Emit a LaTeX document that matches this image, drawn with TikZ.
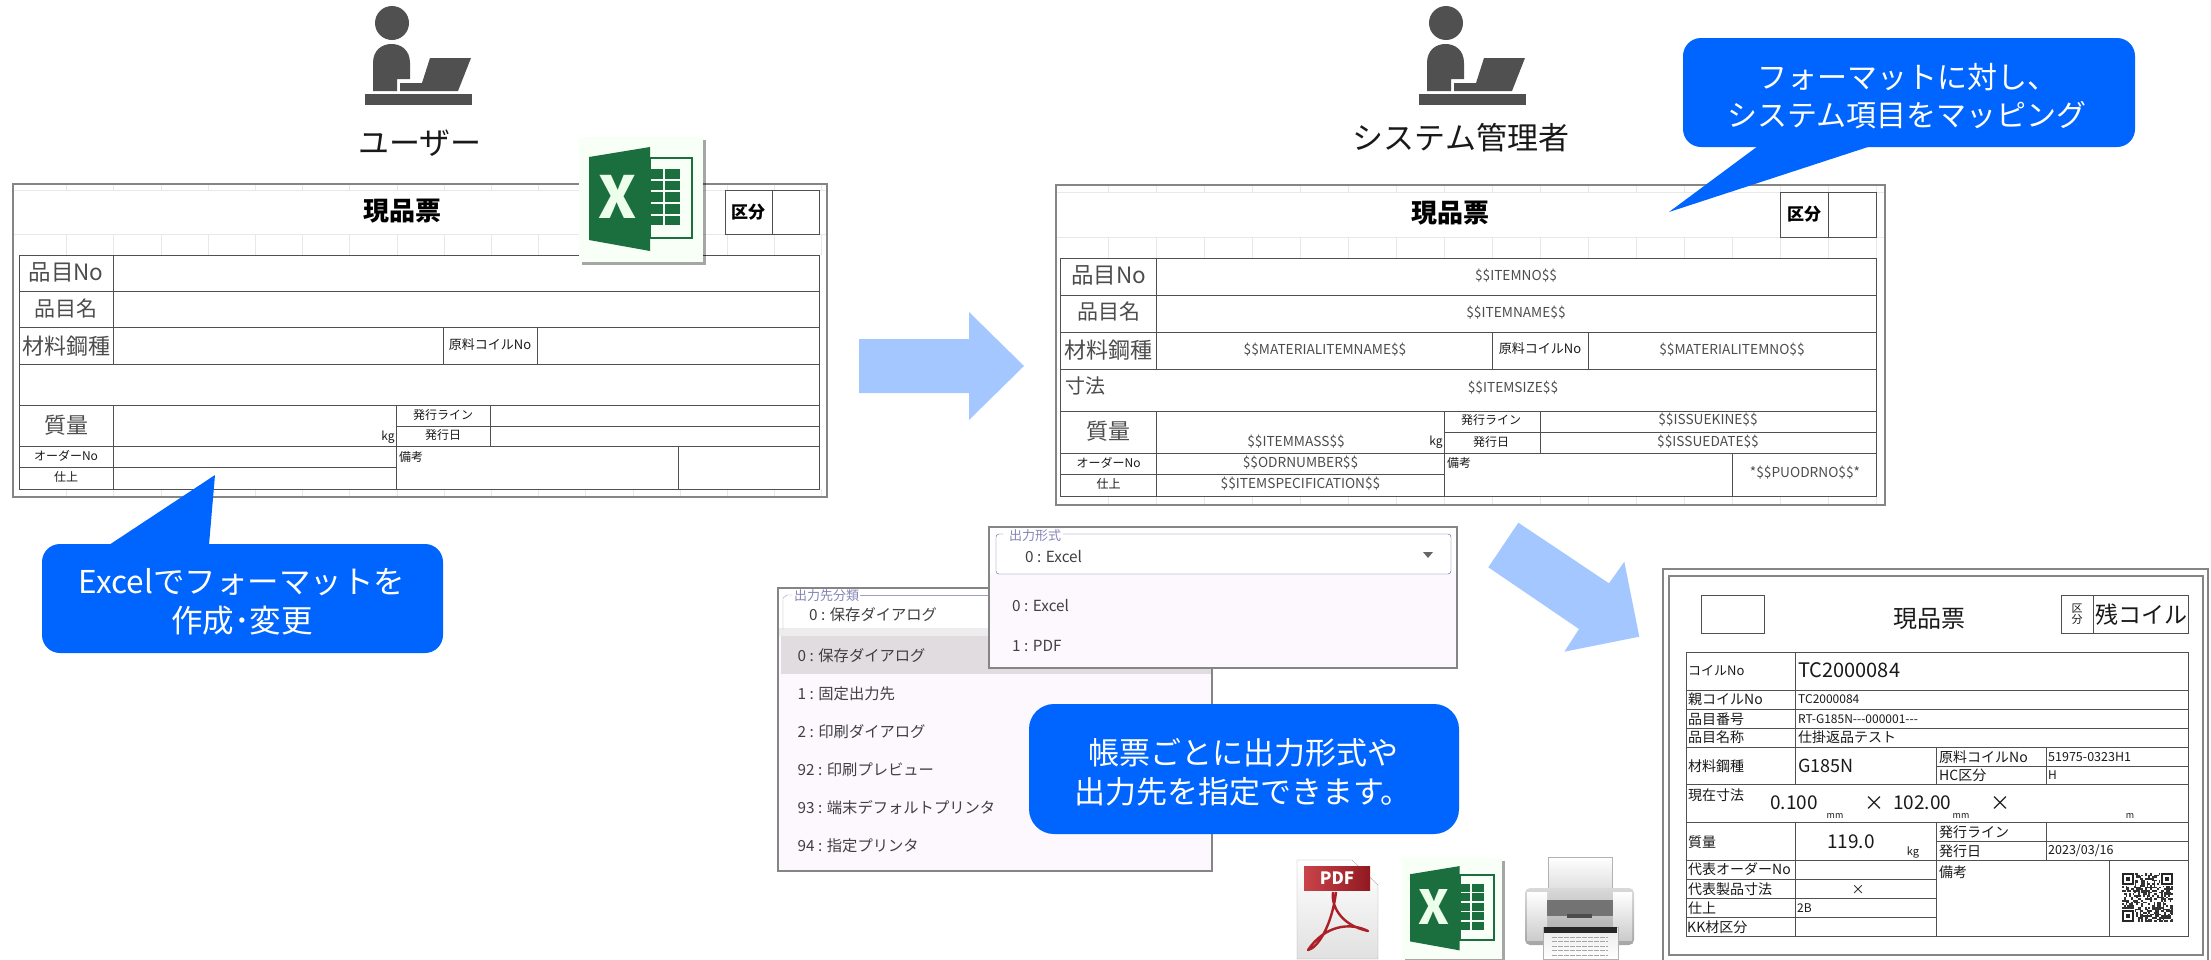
\documentclass[tikz,border=0pt]{standalone}
\usepackage{fontspec}
\usetikzlibrary{shadows}
\setmainfont{Noto Sans CJK JP}

\definecolor{calloutblue}{HTML}{0064FF}
\definecolor{arrowblue}{HTML}{A4C7FF}
\definecolor{persongray}{HTML}{505050}
\definecolor{tablegray}{HTML}{505050}
\definecolor{framegray}{HTML}{858585}
\definecolor{gridgray}{HTML}{E8E8E8}
\definecolor{excelgreen}{HTML}{1B6F3F}
\definecolor{panelbg}{HTML}{FCF8FE}
\definecolor{panelsel}{HTML}{E0DCE0}
\definecolor{fieldline}{HTML}{5B5B9F}
\definecolor{pdfred}{HTML}{C0222A}

\tikzset{
    txt/.style={inner sep=0pt, font=\fontsize{#1}{38.5}\selectfont, text=black!90},
    txtl/.style={txt=#1, anchor=west},
    biglabel/.style={txt=#1, text=black!70},
    tpl/.style={txt=13.7, text=black!70},
    panel/.style={txt=15.3, anchor=west, text=black!75},
    plabel/.style={txt=13, anchor=west, text=fieldline!75},
    callout/.style={fill=calloutblue, rounded corners=18pt},
    calltext/.style={txt=#1, text=white, align=center},
    blockarrow/.style={fill=arrowblue},
    frameline/.style={draw=framegray, line width=2pt},
    tableline/.style={draw=tablegray, line width=1pt},
    gridline/.style={draw=gridgray, line width=1pt},
    person/.pic={
        \fill[persongray] (392,23) circle[radius=17];
        \fill[persongray] (373,91) -- (373,63) .. controls (373,50) and (382,44) .. (391.5,44)
            .. controls (401,44) and (410,50) .. (410,63) -- (410,79) -- (397,79) -- (397,91) -- cycle;
        \fill[persongray] (400,83) -- (422,83) -- (430,58) -- (471,58) -- (458,91) -- (400,91) -- cycle;
        \fill[persongray] (365,94) rectangle (472,105);
    },
    excelicon/.pic={
        \fill[white!97!green, drop shadow={shadow xshift=3pt, shadow yshift=-3pt, fill=black, opacity=.35}] (0,0) rectangle (124,125);
        \draw[excelgreen, line width=2pt] (71,21) rectangle (113,101);
        \foreach \r in {0,...,4} {
            \fill[excelgreen] (72,{32+11.7*\r}) rectangle (84,{41.5+11.7*\r});
            \fill[excelgreen] (86,{32+11.7*\r}) rectangle (101,{41.5+11.7*\r});
        }
        \fill[excelgreen] (10,20) -- (71,10) -- (71,114) -- (10,103) -- cycle;
        \node[inner sep=0pt, transform shape, text=white!92!green, font=\fontsize{58}{58}\selectfont\bfseries] (#1) at (39,60) {X};
    },
}

\begin{document}
\begin{tikzpicture}[x=1pt, y=-1pt]
    \useasboundingbox (0,0) rectangle (2211,959);

    % Users
    \pic at (0,0) {person};
    \pic at (1054,0) {person};
    \node[txt=31] (user) at (420,143) {ユーザー};
    \node[txt=31] (admin) at (1461,138) {システム管理者};

    % Format form, left
    \foreach \k in {0,...,16} {
        \draw[gridline] ({66.7+47.2*\k},184) -- ({66.7+47.2*\k},190);
        \draw[gridline] ({66.7+47.2*\k},234) -- ({66.7+47.2*\k},255);
        \draw[gridline] ({66.7+47.2*\k},489) -- ({66.7+47.2*\k},497);
    }
    \draw[gridline] (13,190) -- (827,190);
    \draw[gridline] (13,234) -- (827,234);
    \draw[frameline] (13,184) rectangle (827,497);
    \draw[tableline] (725,190) rectangle (819.5,234);
    \draw[tableline] (772,190) -- (772,234);
    \draw[tableline] (19.5,255) rectangle (819.5,489);
    \foreach \y in {291,327,364,405,446} \draw[tableline] (19.5,\y) -- (819.5,\y);
    \draw[tableline] (19.5,467) -- (396,467);
    \draw[tableline] (396,426) -- (819.5,426);
    \draw[tableline] (113,255) -- (113,364);
    \draw[tableline] (113,405) -- (113,489);
    \draw[tableline] (443,327) -- (443,364);
    \draw[tableline] (537,327) -- (537,364);
    \draw[tableline] (396,405) -- (396,489);
    \draw[tableline] (490.5,405) -- (490.5,446);
    \draw[tableline] (678.6,446) -- (678.6,489);

    \node[txt=26, font=\fontsize{26}{30}\selectfont\bfseries, text=black] (ltitle) at (402,211) {現品票};
    \node[txt=17, font=\fontsize{17}{20}\selectfont\bfseries, text=black] (lkubun) at (748,212) {区分};
    \node[biglabel=22.5] (lno) at (66,272) {品目No};
    \node[biglabel=21] (lname) at (66,309) {品目名};
    \node[biglabel=22] (lmat) at (66,346) {材料鋼種};
    \node[txt=13] (lcoil) at (490,345) {原料コイルNo};
    \node[biglabel=22] (lmass) at (66,425) {質量};
    \node[txt=12] (lkg) at (388,437) {kg};
    \node[txt=12] (lline) at (443,415) {発行ライン};
    \node[txt=12] (ldate) at (443,435) {発行日};
    \node[txt=12] (lorder) at (66,456) {オーダーNo};
    \node[txt=12] (lfin) at (66,477) {仕上};
    \node[txtl=12] (lnote) at (399,457) {備考};

    \pic at (579,137) {excelicon=excelx};

    % Callout, left
    \fill[callout] (42,544) rectangle (443,653);
    \fill[calloutblue] (109,545) -- (215,475) -- (209,545) -- cycle;
    \node[calltext=31.5] (lcall) at (242,602) {Excelでフォーマットを\\作成･変更};

    % Arrow between the forms
    \fill[blockarrow] (859,339) -- (969,339) -- (969,312) -- (1024,366) -- (969,420) -- (969,393) -- (859,393) -- cycle;

    % Format form, right
    \foreach \k in {0,...,16} {
        \draw[gridline] ({1108.6+48*\k},185) -- ({1108.6+48*\k},192);
        \draw[gridline] ({1108.6+48*\k},237) -- ({1108.6+48*\k},258);
        \draw[gridline] ({1108.6+48*\k},496) -- ({1108.6+48*\k},505);
    }
    \draw[gridline] (1056,192) -- (1885,192);
    \draw[gridline] (1056,237) -- (1885,237);
    \draw[frameline] (1056,185) rectangle (1885,505);
    \draw[tableline] (1780.5,192) rectangle (1876,237);
    \draw[tableline] (1828,192) -- (1828,237);
    \draw[tableline] (1060,258) rectangle (1876,496);
    \foreach \y in {295,332,369,411,453} \draw[tableline] (1060,\y) -- (1876,\y);
    \draw[tableline] (1060,474) -- (1444,474);
    \draw[tableline] (1444,432) -- (1876,432);
    \draw[tableline] (1156,258) -- (1156,369);
    \draw[tableline] (1156,411) -- (1156,496);
    \draw[tableline] (1492.5,332) -- (1492.5,369);
    \draw[tableline] (1588.5,332) -- (1588.5,369);
    \draw[tableline] (1444,411) -- (1444,496);
    \draw[tableline] (1540,411) -- (1540,453);
    \draw[tableline] (1732,453) -- (1732,496);

    \node[txt=26, font=\fontsize{26}{30}\selectfont\bfseries, text=black] (rtitle) at (1450,213) {現品票};
    \node[txt=17, font=\fontsize{17}{20}\selectfont\bfseries, text=black] (rkubun) at (1804,214) {区分};
    \node[biglabel=22.5] (rno) at (1108.6,275) {品目No};
    \node[biglabel=21] (rname) at (1108.6,312) {品目名};
    \node[biglabel=22] (rmat) at (1108.6,350) {材料鋼種};
    \node[biglabel=20, anchor=west] (rsize) at (1065,386) {寸法};
    \node[biglabel=22] (rmass) at (1108.6,431) {質量};
    \node[txt=12] (rkg) at (1436,442) {kg};
    \node[txt=13] (rcoil) at (1540,349) {原料コイルNo};
    \node[txt=12] (rline) at (1491,420) {発行ライン};
    \node[txt=12] (rdate) at (1491,442) {発行日};
    \node[txt=12] (rorder) at (1108.6,463) {オーダーNo};
    \node[txt=12] (rfin) at (1108.6,484) {仕上};
    \node[txtl=12] (rnote) at (1447,463) {備考};
    \node[tpl] (titemno) at (1516,276) {\$\$ITEMNO\$\$};
    \node[tpl] (titemname) at (1516,313) {\$\$ITEMNAME\$\$};
    \node[tpl] (tmatname) at (1325,350) {\$\$MATERIALITEMNAME\$\$};
    \node[tpl] (tmatno) at (1732,350) {\$\$MATERIALITEMNO\$\$};
    \node[tpl] (tsize) at (1513,388) {\$\$ITEMSIZE\$\$};
    \node[tpl] (tmass) at (1296,442) {\$\$ITEMMASS\$\$};
    \node[tpl] (tkine) at (1708,420) {\$\$ISSUEKINE\$\$};
    \node[tpl] (tdate) at (1708,442) {\$\$ISSUEDATE\$\$};
    \node[tpl] (todr) at (1300.5,463) {\$\$ODRNUMBER\$\$};
    \node[tpl] (tspec) at (1300.5,484) {\$\$ITEMSPECIFICATION\$\$};
    \node[tpl] (tpuo) at (1805,473) {*\$\$PUODRNO\$\$*};

    % Callout, right
    \fill[callout] (1683,38) rectangle (2135,147);
    \fill[calloutblue] (1758,146) -- (1669,212) -- (1871,146) -- cycle;
    \node[calltext=30] (rcall) at (1907,96) {フォーマットに対し、\\システム項目をマッピング};

    % Dropdown, output target
    \fill[panelbg] (778,588) rectangle (1212,871);
    \fill[white] (779,589) rectangle (1211,628);
    \fill[black!7] (779,628) rectangle (1211,636);
    \fill[panelsel] (781,636) rectangle (1211,674);
    \draw[frameline] (778,588) rectangle (1212,871);
    \draw[fieldline!60] (792,595) -- (787,595) -- (783,598) -- (783,629);
    \draw[fieldline!60] (860,595) -- (1000,595);
    \node[plabel] (ttitle) at (794,596) {出力先分類};
    \node[panel] (tsel) at (809,615) {0 : 保存ダイアログ};
    \node[panel] (ta) at (797.5,656) {0 : 保存ダイアログ};
    \node[panel] (tb) at (797.5,694) {1 : 固定出力先};
    \node[panel] (tc) at (797.5,732) {2 : 印刷ダイアログ};
    \node[panel] (td) at (797.5,770) {92 : 印刷プレビュー};
    \node[panel] (te) at (797.5,808) {93 : 端末デフォルトプリンタ};
    \node[panel] (tf) at (797.5,846) {94 : 指定プリンタ};

    % Dropdown, output format
    \fill[panelbg] (989,527) rectangle (1457,668);
    \fill[white] (990,528) rectangle (1456,574);
    \draw[frameline] (989,527) rectangle (1457,668);
    \draw[fieldline, rounded corners=3pt] (1003,534) -- (996,534) -- (996,574) -- (1451,574) -- (1451,534) -- (1063,534);
    \node[plabel] (ftitle) at (1009,536) {出力形式};
    \node[panel] (fsel) at (1025,556) {0 : Excel};
    \fill[black!60] (1423,552) -- (1433,552) -- (1428,558) -- cycle;
    \node[panel] (fa) at (1012,605) {0 : Excel};
    \node[panel] (fb) at (1012,646) {1 : PDF};

    % Callout, lower
    \fill[callout, rounded corners=25pt] (1029,704) rectangle (1459,834);
    \node[calltext=31] (mcall) at (1243,772) {帳票ごとに出力形式や\\出力先を指定できます。};

    % Arrow to the printed form
    \fill[blockarrow] (1518.3,522.7) -- (1609,583.3) -- (1624.3,561.7) -- (1639.3,636.7) -- (1564.3,651.7) -- (1579,629) -- (1488.3,567.3) -- cycle;

    % Output icons
    \shade[top color=white, bottom color=black!12, draw=black!35] (1297,860) -- (1352,860) -- (1378,885) -- (1378,959) -- (1297,959) -- cycle;
    \shade[left color=pdfred!85!white, right color=pdfred!75!black] (1304,866) rectangle (1370,890);
    \node[inner sep=0pt, text=white, font=\fontsize{17}{20}\selectfont\bfseries] (pdf) at (1337,878) {PDF};
    \draw[pdfred!90!black, line width=2.4pt, line join=round] (1333,892) .. controls (1331,905) and (1340,925) .. (1368,931)
        .. controls (1350,922) and (1325,925) .. (1308,950) .. controls (1318,948) and (1332,925) .. (1336,892);
    \pic[scale=.81] at (1402,858) {excelicon=excely};
    % Printer
    \shade[top color=white, bottom color=black!15, draw=black!30] (1548,857) rectangle (1612,896);
    \shade[top color=black!15, bottom color=black!35, rounded corners=5pt] (1525,888) rectangle (1634,945);
    \shade[top color=white, bottom color=black!20] (1527,892) rectangle (1547,940);
    \shade[top color=white, bottom color=black!20] (1613,892) rectangle (1632,940);
    \fill[black!55] (1547,900) rectangle (1613,916);
    \fill[black!70] (1567,914) rectangle (1592,918);
    \shade[top color=black!8, bottom color=white, draw=black!30] (1543,927) rectangle (1618,959);
    \fill[black!85] (1544,927) rectangle (1617,933);
    \foreach \k in {0,...,4} \draw[black!35, dash pattern=on 5pt off 1pt] (1552,{937+4.5*\k}) -- (1608,{937+4.5*\k});

    % Printed form
    \draw[frameline] (1663,569) rectangle (2208,970);
    \draw[frameline] (1669,576) rectangle (2203,955);
    \draw[tableline] (1701,595) rectangle (1764,633);
    \draw[tableline] (2061,595) rectangle (2188,633);
    \draw[tableline] (2093,595) -- (2093,633);
    \draw[tableline] (1686,652) rectangle (2188,936);
    \foreach \y in {690,709,728,747,784,822,860,879,898,917} \draw[tableline] (1686,\y) -- (1936,\y);
    \foreach \y in {690,709,728,747,766,784,822,841} \draw[tableline] (1936,\y) -- (2188,\y);
    \draw[tableline] (1936,860) -- (2188,860);
    \draw[tableline] (1795,652) -- (1795,784);
    \draw[tableline] (1795,822) -- (1795,936);
    \draw[tableline] (1936,747) -- (1936,784);
    \draw[tableline] (1936,822) -- (1936,936);
    \draw[tableline] (2046,747) -- (2046,784);
    \draw[tableline] (2046,822) -- (2046,860);
    \draw[tableline] (2109,860) -- (2109,936);

    \node[txt=24] (ptitle) at (1929,619) {現品票};
    \node[txt=11, align=center, font=\fontsize{11}{11}\selectfont] (pkubun) at (2077,614) {区\\分};
    \node[txt=23] (pkind) at (2141,615) {残コイル};
    \node[txtl=13] (pcoil) at (1688,671) {コイルNo};
    \node[txtl=20] (pcoilv) at (1798,670) {TC2000084};
    \node[txtl=14] (pparent) at (1688,699) {親コイルNo};
    \node[txtl=12] (pparentv) at (1798,699) {TC2000084};
    \node[txtl=14] (pno) at (1688,719) {品目番号};
    \node[txtl=12] (pnov) at (1798,719) {RT-G185N-{}-{}-000001-{}-{}-};
    \node[txtl=14] (pname) at (1688,737) {品目名称};
    \node[txtl=14] (pnamev) at (1798,737) {仕掛返品テスト};
    \node[txtl=14] (pmat) at (1688,766) {材料鋼種};
    \node[txtl=18] (pmatv) at (1798,766) {G185N};
    \node[txtl=14] (prcoil) at (1939,757) {原料コイルNo};
    \node[txtl=12.5] (prcoilv) at (2048,757) {51975-0323H1};
    \node[txtl=14] (phc) at (1939,775) {HC区分};
    \node[txtl=12] (phcv) at (2048,775) {H};
    \node[txtl=14] (psize) at (1688,795) {現在寸法};
    \node[txtl=19] (pthick) at (1770,803) {0.100};
    \node[txt=9] (pmma) at (1835,816) {mm};
    \node[txt=20] (pxa) at (1874,804) {×};
    \node[txtl=19] (pwidth) at (1893,803) {102.00};
    \node[txt=9] (pmmb) at (1961,816) {mm};
    \node[txt=20] (pxb) at (2000,804) {×};
    \node[txt=9] (pmc) at (2130,816) {m};
    \node[txtl=14] (pmass) at (1688,842) {質量};
    \node[txt=19] (pmassv) at (1851,842) {119.0};
    \node[txt=11] (pkg) at (1913,852) {kg};
    \node[txtl=14] (pline) at (1939,832) {発行ライン};
    \node[txtl=14] (pdate) at (1939,851) {発行日};
    \node[txtl=12.5] (pdatev) at (2048,851) {2023/03/16};
    \node[txtl=14] (porder) at (1688,869) {代表オーダーNo};
    \node[txtl=14] (pprod) at (1688,889) {代表製品寸法};
    \node[txt=13] (pxc) at (1858,890) {×};
    \node[txtl=14] (pfin) at (1688,908) {仕上};
    \node[txtl=12] (pfinv) at (1797,908) {2B};
    \node[txtl=14] (pkk) at (1687,927) {KK材区分};
    \node[txtl=14] (pnote) at (1939,872) {備考};

    % QR code
    \pgfmathsetseed{7}
    \foreach \i in {0,...,28} {
        \foreach \j in {0,...,28} {
            \pgfmathrandominteger{\bit}{0}{1}
            \ifnum\bit=1
                \fill[black!80] ({2122+1.76*\i},{873+1.69*\j}) rectangle +(1.76,1.69);
            \fi
        }
    }
    \foreach \qx/\qy in {2122/873, 2161/873, 2122/910} {
        \fill[white] (\qx-1,\qy-1) rectangle +(14,14);
        \fill[black!85] (\qx,\qy) rectangle +(12,12);
        \fill[white] (\qx+2,\qy+2) rectangle +(8,8);
        \fill[black!85] (\qx+4,\qy+4) rectangle +(4,4);
    }
\end{tikzpicture}
\end{document}
